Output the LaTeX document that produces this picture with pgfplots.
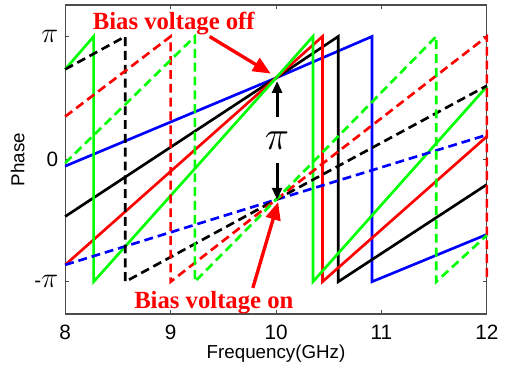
\documentclass[border=0pt]{standalone}
\usepackage{pgfplots}
\pgfplotsset{compat=1.18}
\usepackage{fontspec}
\setmainfont{Liberation Sans}
\newfontfamily\serifb{Liberation Serif}
\usetikzlibrary{arrows.meta}
\definecolor{cgreen}{RGB}{0,255,0}
\begin{document}
\begin{tikzpicture}
\begin{axis}[
  scale only axis,
  width=213.5pt, height=156.5pt,
  xmin=8, xmax=12, ymin=-3.97, ymax=3.95,
  xtick={8,9,10,11,12},
  ytick={-3.14159,0,3.14159},
  yticklabels={{\fontsize{10.5}{12}\selectfont -\fontsize{15.5}{15}\selectfont$\pi$},{\fontsize{10.5}{12}\selectfont 0},{\fontsize{15.5}{15}\selectfont$\pi$}},
  tick align=inside,
  major tick length=2pt,
  axis line style={black!70, line width=0.6pt},
  every tick/.style={black!70, line width=0.5pt},
  tick label style={font=\fontsize{10.5}{12}\selectfont},
  /pgf/number format/assume math mode=true,
  xticklabel style={yshift=-2pt},
  yticklabel style={xshift=0pt},
  clip=false,
  every axis plot/.append style={line width=1.35pt},
]
% solid (bias off)
\addplot[blue] coordinates {(8,-0.18) (10,2.08) (10.91,3.1416) (10.91,-3.1416) (12,-1.93)};
\addplot[black] coordinates {(8,-1.47) (10,2.08) (10.59,3.1416) (10.59,-3.1416) (12,-0.65)};
\addplot[red] coordinates {(8,-2.71) (10,2.08) (10.44,3.1416) (10.44,-3.1416) (12,0.58)};
\addplot[cgreen] coordinates {(8,2.30) (8.27,3.1416) (8.27,-3.1416) (10,2.08) (10.35,3.1416) (10.35,-3.1416) (12,1.86)};
% dashed (bias on)
\addplot[blue, dash pattern=on 4.5pt off 2.5pt] coordinates {(8,-2.71) (10,-1.04) (12,0.62)};
\addplot[black, dash pattern=on 4.5pt off 2.5pt] coordinates {(8,2.30) (8.57,3.1416) (8.57,-3.1416) (10,-1.04) (12,1.88)};
\addplot[red, dash pattern=on 4.5pt off 2.5pt] coordinates {(8,1.09) (9.0,3.1416) (9.0,-3.1416) (10,-1.04) (12,3.1416) (12,-3.1416)};
\addplot[cgreen, dash pattern=on 4.5pt off 2.5pt] coordinates {(8,-0.1) (9.23,3.1416) (9.23,-3.1416) (10,-1.04) (11.52,3.1416) (11.52,-3.1416) (12,-1.95)};
% annotations
\node[text=red, font=\serifb\bfseries\fontsize{12.5}{14}\selectfont, anchor=base] at (axis cs:9.03,3.32) {Bias voltage off};
\node[text=red, font=\serifb\bfseries\fontsize{12.5}{14}\selectfont, anchor=base] at (axis cs:9.41,-3.83) {Bias voltage on};
\draw[red, line width=1.7pt, -{Triangle[length=9pt,width=7.5pt]}] (axis cs:9.37,3.14) -- (axis cs:9.95,2.19);
\draw[red, line width=1.7pt, -{Triangle[length=9pt,width=7.5pt]}] (axis cs:9.78,-3.30) -- (axis cs:10.02,-1.10);
\draw[black, line width=1.6pt, -{Triangle[length=6pt,width=5pt]}] (axis cs:10.01,1.09) -- (axis cs:10.01,2.0);
\draw[black, line width=1.6pt, -{Triangle[length=6pt,width=5pt]}] (axis cs:10.01,-0.10) -- (axis cs:10.01,-1.04);
\node[font=\fontsize{20}{20}\selectfont] at (axis cs:10.01,0.48) {$\pi$};
\coordinate (bl) at (rel axis cs:0,0);
\coordinate (lm) at (rel axis cs:0,0.5);
\coordinate (bm) at (rel axis cs:0.5,0);
\end{axis}
\node[font=\fontsize{9.5}{11}\selectfont, anchor=base] at ([yshift=-22.5pt]bm) {Frequency(GHz)};
\node[font=\fontsize{9.5}{11}\selectfont, rotate=90, anchor=center] at ([xshift=-24pt]lm) {Phase};
\path (bl) ++(-33pt,-28pt) rectangle ++(252.5pt,187pt);
\end{tikzpicture}
\end{document}
